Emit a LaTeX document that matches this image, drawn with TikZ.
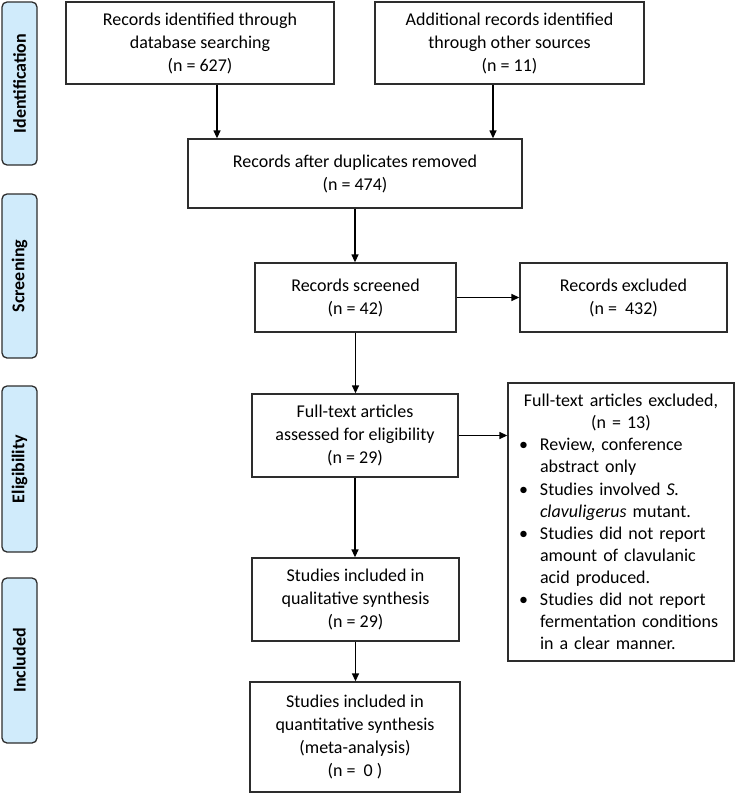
\documentclass[tikz,border=0pt]{standalone}
\usepackage{fontspec}
\setmainfont{Carlito}
\usetikzlibrary{arrows.meta}
\definecolor{lineg}{RGB}{45,45,45}
\definecolor{sidefill}{RGB}{208,235,251}
\tikzset{
  box/.style={draw=lineg, line width=1.3pt, rectangle, align=center, inner sep=2pt,
    font=\fontsize{18}{23}\selectfont},
  side/.style={draw=lineg, line width=1.3pt, rectangle, rounded corners=5pt, fill=sidefill,
    rotate=90, minimum height=35pt, inner sep=0pt, font=\fontsize{18}{20}\selectfont\bfseries},
  arr/.style={draw=black, line width=1.3pt, -{Triangle[length=8pt,width=7pt]}},
}
\begin{document}
\begin{tikzpicture}[x=1pt,y=-1pt]
\useasboundingbox (0,0) rectangle (737,795);
% side labels
\node[side, minimum width=163pt] (sid) at (19.5,83.5) {Identification};
\node[side, minimum width=164pt] (ssc) at (19.5,276) {Screening};
\node[side, minimum width=166pt] (sel) at (19.5,469) {Eligibility};
\node[side, minimum width=165pt] (sin) at (19.5,660.5) {Included};
% boxes
\node[box, minimum width=268pt, minimum height=82pt] (b1) at (200,43)
  {Records identified through\\database searching\\(n = 627)};
\node[box, minimum width=269pt, minimum height=82pt] (b2) at (509.5,43)
  {Additional records identified\\through other sources\\(n = 11)};
\node[box, minimum width=334pt, minimum height=69pt] (b3) at (355,173.5)
  {Records after duplicates removed\\(n = 474)};
\node[box, minimum width=201pt, minimum height=69pt] (b4) at (355.5,297.5)
  {Records screened\\(n = 42)};
\node[box, minimum width=207pt, minimum height=69pt] (b5) at (623.5,297.5)
  {Records excluded\\(n = \ 432)};
\node[box, minimum width=206pt, minimum height=83pt] (b6) at (355,435.5)
  {Full-text articles\\assessed for eligibility\\(n = 29)};
\node[box, minimum width=226pt, minimum height=278pt, text width=206pt, inner xsep=10pt, align=left,
  font=\fontsize{18}{22.1}\selectfont] (b7) at (621,522)
  {\makebox[206pt]{Full-text articles excluded,}\\
   \makebox[206pt]{(n = 13)}\\
   \makebox[22pt][l]{\hspace{1pt}\textbullet}Review, conference\\
   \hspace*{22pt}abstract only\\
   \makebox[22pt][l]{\hspace{1pt}\textbullet}Studies involved \textit{S.}\\
   \hspace*{22pt}\textit{clavuligerus} mutant.\\
   \makebox[22pt][l]{\hspace{1pt}\textbullet}Studies did not report\\
   \hspace*{22pt}amount of clavulanic\\
   \hspace*{22pt}acid produced.\\
   \makebox[22pt][l]{\hspace{1pt}\textbullet}Studies did not report\\
   \hspace*{22pt}fermentation conditions\\
   \hspace*{22pt}in a clear manner.};
\node[box, minimum width=207pt, minimum height=83pt] (b8) at (355.5,599.5)
  {Studies included in\\qualitative synthesis\\(n = 29)};
\node[box, minimum width=210pt, minimum height=110pt] (b9) at (355,737)
  {Studies included in\\quantitative synthesis\\(meta-analysis)\\(n = \ 0 )};
% connectors
\draw[arr] ([xshift=17pt]b1.south) -- ([xshift=17pt]b1.south |- b3.north);
\draw[arr] ([xshift=-16.5pt]b2.south) -- ([xshift=-16.5pt]b2.south |- b3.north);
\draw[arr] (b3.south) -- (b3.south |- b4.north);
\draw[arr] (b4.east) -- (b4.east -| b5.west);
\draw[arr] (b4.south) -- (b4.south |- b6.north);
\draw[arr] (b6.east) -- (b6.east -| b7.west);
\draw[arr] (b6.south) -- (b6.south |- b8.north);
\draw[arr] (b8.south) -- (b8.south |- b9.north);
\end{tikzpicture}
\end{document}
